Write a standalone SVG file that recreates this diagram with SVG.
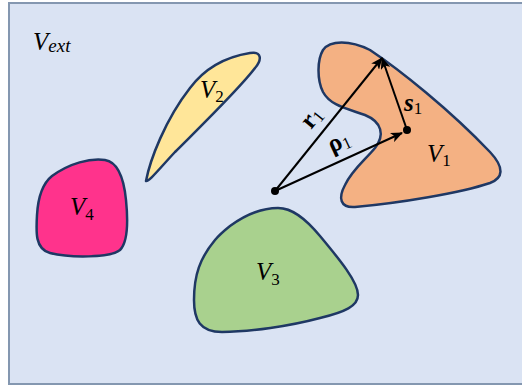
<svg xmlns="http://www.w3.org/2000/svg" width="522" height="387" viewBox="0 0 522 387">
<defs>
<style>
.shape{stroke:#1f3864;stroke-width:2.5;stroke-linejoin:round}
.lbl{font-family:"Liberation Serif","DejaVu Serif",serif;font-size:25px;fill:#000}
.it{font-style:italic}
.sub{font-size:17px;font-style:normal}
.bold{font-weight:bold}
.arrow{stroke:#000;stroke-width:2;fill:none;marker-end:url(#ah)}
</style>
<marker id="ah" viewBox="0 0 12 10" refX="11" refY="5" markerWidth="12" markerHeight="10" markerUnits="userSpaceOnUse" orient="auto">
<path d="M0,0 L12,5 L0,10 L3,5 Z" fill="#000"/>
</marker>
</defs>
<rect id="bg" x="9" y="3" width="520" height="381" fill="#dae3f3" stroke="#8497b0" stroke-width="2"/>
<text class="lbl" x="33" y="50"><tspan class="it">V</tspan><tspan class="it" font-size="19" dy="2">ext</tspan></text>
<g id="V1">
<path class="shape" fill="#f4b183" d="M323,50 C330,40 350,40 370,50 C400,70 450,110 490,152 C505,168 503,178 490,183 C460,193 400,203 355,207 C340,208 338,198 345,185 C352,170 365,160 375,148 C385,135 382,122 365,115 C345,108 330,105 323,92 C317,80 317,60 323,50 Z"/>
<text class="lbl" x="427" y="162"><tspan class="it">V</tspan><tspan class="sub" dy="4">1</tspan></text>
</g>
<g id="V2">
<path class="shape" fill="#ffe699" d="M146,181 C150,160 165,120 190,88 C205,68 225,57 250,53 C262,51 262,60 255,68 C240,88 205,122 175,152 C160,168 148,183 146,181 Z"/>
<text class="lbl" x="200" y="98"><tspan class="it">V</tspan><tspan class="sub" dy="4">2</tspan></text>
</g>
<g id="V3">
<path class="shape" fill="#a9d18e" d="M230,226 C245,215 262,208 278,208 C292,208 305,218 320,236 C340,260 358,282 358,295 C358,306 345,312 320,318 C290,326 250,332 222,332 C200,332 194,320 194,300 C194,275 200,258 215,240 C220,234 225,230 230,226 Z"/>
<text class="lbl" x="256" y="280"><tspan class="it">V</tspan><tspan class="sub" dy="5">3</tspan></text>
</g>
<g id="V4">
<path class="shape" fill="#ff338c" d="M52,176 C70,163 90,158 105,160 C118,162 124,180 126,200 C128,220 128,242 120,250 C110,258 70,258 50,253 C35,249 36,232 37,215 C38,198 42,184 52,176 Z"/>
<text class="lbl" x="70" y="215"><tspan class="it">V</tspan><tspan class="sub" dy="5">4</tspan></text>
</g>
<g id="connectors">
<line class="arrow" x1="275" y1="191" x2="382" y2="58"/>
<line class="arrow" x1="275" y1="191" x2="402" y2="133"/>
<line class="arrow" x1="407" y1="130" x2="382" y2="58"/>
<circle cx="275" cy="191" r="4" fill="#000"/>
<circle cx="407" cy="130" r="4" fill="#000"/>
</g>
<g id="labels">
<text class="lbl bold" font-size="26" transform="translate(311,130) rotate(-51)">r<tspan class="sub" font-weight="normal" dy="3">1</tspan></text>
<text class="lbl bold" font-size="26" transform="translate(332,153) rotate(-25)">ρ<tspan class="sub" font-weight="normal" dy="3">1</tspan></text>
<text class="lbl bold it" font-size="25" x="404" y="111">s<tspan class="sub" font-weight="normal" dy="3">1</tspan></text>
</g>
</svg>
